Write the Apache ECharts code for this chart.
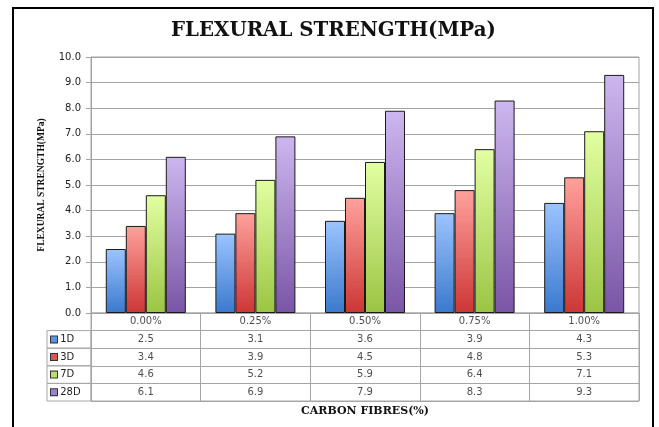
<!DOCTYPE html>
<html>
<head>
<meta charset="utf-8">
<script src="https://cdn.jsdelivr.net/npm/echarts@6/dist/echarts.min.js"></script>
<style>html,body{margin:0;padding:0;background:#fff;}#c{width:659px;height:427px;}</style>
</head>
<body>
<div id="c"></div>
<script>
const categories = ['0.00%', '0.25%', '0.50%', '0.75%', '1.00%'];
const seriesNames = ['1D', '3D', '7D', '28D'];
const d1 = [2.5, 3.1, 3.6, 3.9, 4.3];
const d3 = [3.4, 3.9, 4.5, 4.8, 5.3];
const d7 = [4.6, 5.2, 5.9, 6.4, 7.1];
const d28 = [6.1, 6.9, 7.9, 8.3, 9.3];
const yTicks = ['0.0','1.0','2.0','3.0','4.0','5.0','6.0','7.0','8.0','9.0','10.0'];

const allData = [d1, d3, d7, d28];
const topColors = ['#9CC4FF', '#FFA19C', '#E2FFA2', '#CDB7EF'];
const botColors = ['#3A79CC', '#CC3636', '#9BC443', '#7A55A6'];
const keyColors = ['#5B93E0', '#DD5552', '#B8DE6E', '#9D7FCB'];

function grad(i) {
  return new echarts.graphic.LinearGradient(0, 0, 0, 1, [
    {offset: 0, color: topColors[i]}, {offset: 1, color: botColors[i]}
  ]);
}

const barSeries = seriesNames.map((n, i) => ({
  name: n, type: 'bar', xAxisIndex: 0, yAxisIndex: 0,
  data: allData[i],
  barGap: '0%', barCategoryGap: '27%',
  itemStyle: {color: grad(i), borderColor: '#1a1a1a', borderWidth: 1},
  emphasis: {disabled: true}
}));

const tableData = [];
categories.forEach((c, ci) => tableData.push([ci, 0, c]));
allData.forEach((arr, si) => arr.forEach((v, ci) => tableData.push([ci, si + 1, v.toFixed(1)])));

const rowCats = [{value: 'hdr', textStyle: {borderWidth: 0, borderColor: 'transparent'}}].concat(seriesNames);

const rich = {t: {fontFamily: 'DejaVu Sans', fontSize: 10, color: '#222', align: 'left'}};
seriesNames.forEach((n, i) => {
  rich['k' + i] = {width: 6, height: 6, backgroundColor: keyColors[i], borderColor: '#333', borderWidth: 1, align: 'left'};
});

const chart = echarts.init(document.getElementById('c'), null, {renderer: 'canvas'});
chart.setOption({
  animation: false,
  backgroundColor: '#fff',
  title: {
    text: 'FLEXURAL STRENGTH(MPa)', left: 166, top: 16,
    textStyle: {fontFamily: 'DejaVu Serif', fontWeight: 'bold', fontSize: 19.8, color: '#111'}
  },
  graphic: [{
    type: 'rect', silent: true, z: 100,
    shape: {x: 13, y: 8, width: 640, height: 440},
    style: {fill: 'none', stroke: '#000', lineWidth: 2}
  }],
  grid: [
    {left: 91, right: 20, top: 57, height: 256, show: true, borderColor: '#a3a3a3', borderWidth: 1, backgroundColor: 'transparent'},
    {left: 91, right: 20, top: 313, height: 88, show: true, borderColor: '#a6a6a6', borderWidth: 1, backgroundColor: 'transparent'}
  ],
  xAxis: [
    {type: 'category', gridIndex: 0, data: categories,
     axisLine: {show: true, lineStyle: {color: '#a3a3a3'}}, axisTick: {show: false}, axisLabel: {show: false}},
    {type: 'category', gridIndex: 1, data: categories, position: 'bottom',
     axisLine: {show: false}, axisTick: {show: false}, axisLabel: {show: false},
     splitLine: {show: true, lineStyle: {color: '#a6a6a6', width: 1}},
     name: 'CARBON FIBRES(%)', nameLocation: 'middle', nameGap: 5,
     nameTextStyle: {fontFamily: 'DejaVu Serif', fontWeight: 'bold', fontSize: 11, color: '#111', verticalAlign: 'top'}}
  ],
  yAxis: [
    {type: 'value', gridIndex: 0, min: 0, max: 10, interval: 1,
     axisLine: {show: true, lineStyle: {color: '#a3a3a3'}},
     axisTick: {show: true, length: 5, inside: false, lineStyle: {color: '#a3a3a3'}},
     axisLabel: {margin: 10, fontFamily: 'DejaVu Sans', fontSize: 10, color: '#222',
       formatter: (v) => yTicks[Math.round(v)]},
     splitLine: {show: true, lineStyle: {color: '#a3a3a3', width: 1}},
     name: 'FLEXURAL STRENGTH(MPa)', nameLocation: 'middle', nameGap: 44, nameRotate: 90,
     nameTextStyle: {fontFamily: 'Liberation Serif', fontWeight: 'bold', fontSize: 9.5, color: '#111'}},
    {type: 'category', gridIndex: 1, data: rowCats, inverse: true,
     axisLine: {show: false}, axisTick: {show: false},
     splitLine: {show: true, lineStyle: {color: '#a6a6a6', width: 1}},
     axisLabel: {interval: 0, hideOverlap: false, margin: 0, width: 40, height: 17.6, lineHeight: 17.6, padding: [0, 0, 0, 4],
       borderColor: '#a6a6a6', borderWidth: 1,
       formatter: (v, idx) => {
         if (v === 'hdr') return '';
         const i = seriesNames.indexOf(v);
         return '{k' + i + '|}{t| ' + v + '}';
       },
       rich: rich}}
  ],
  series: barSeries.concat([{
    type: 'scatter', xAxisIndex: 1, yAxisIndex: 1, symbolSize: 0, silent: true,
    data: tableData,
    label: {show: true, position: 'inside', formatter: (p) => p.value[2],
      fontFamily: 'DejaVu Sans', fontSize: 10, color: '#222'}
  }])
});
</script>
</body>
</html>
